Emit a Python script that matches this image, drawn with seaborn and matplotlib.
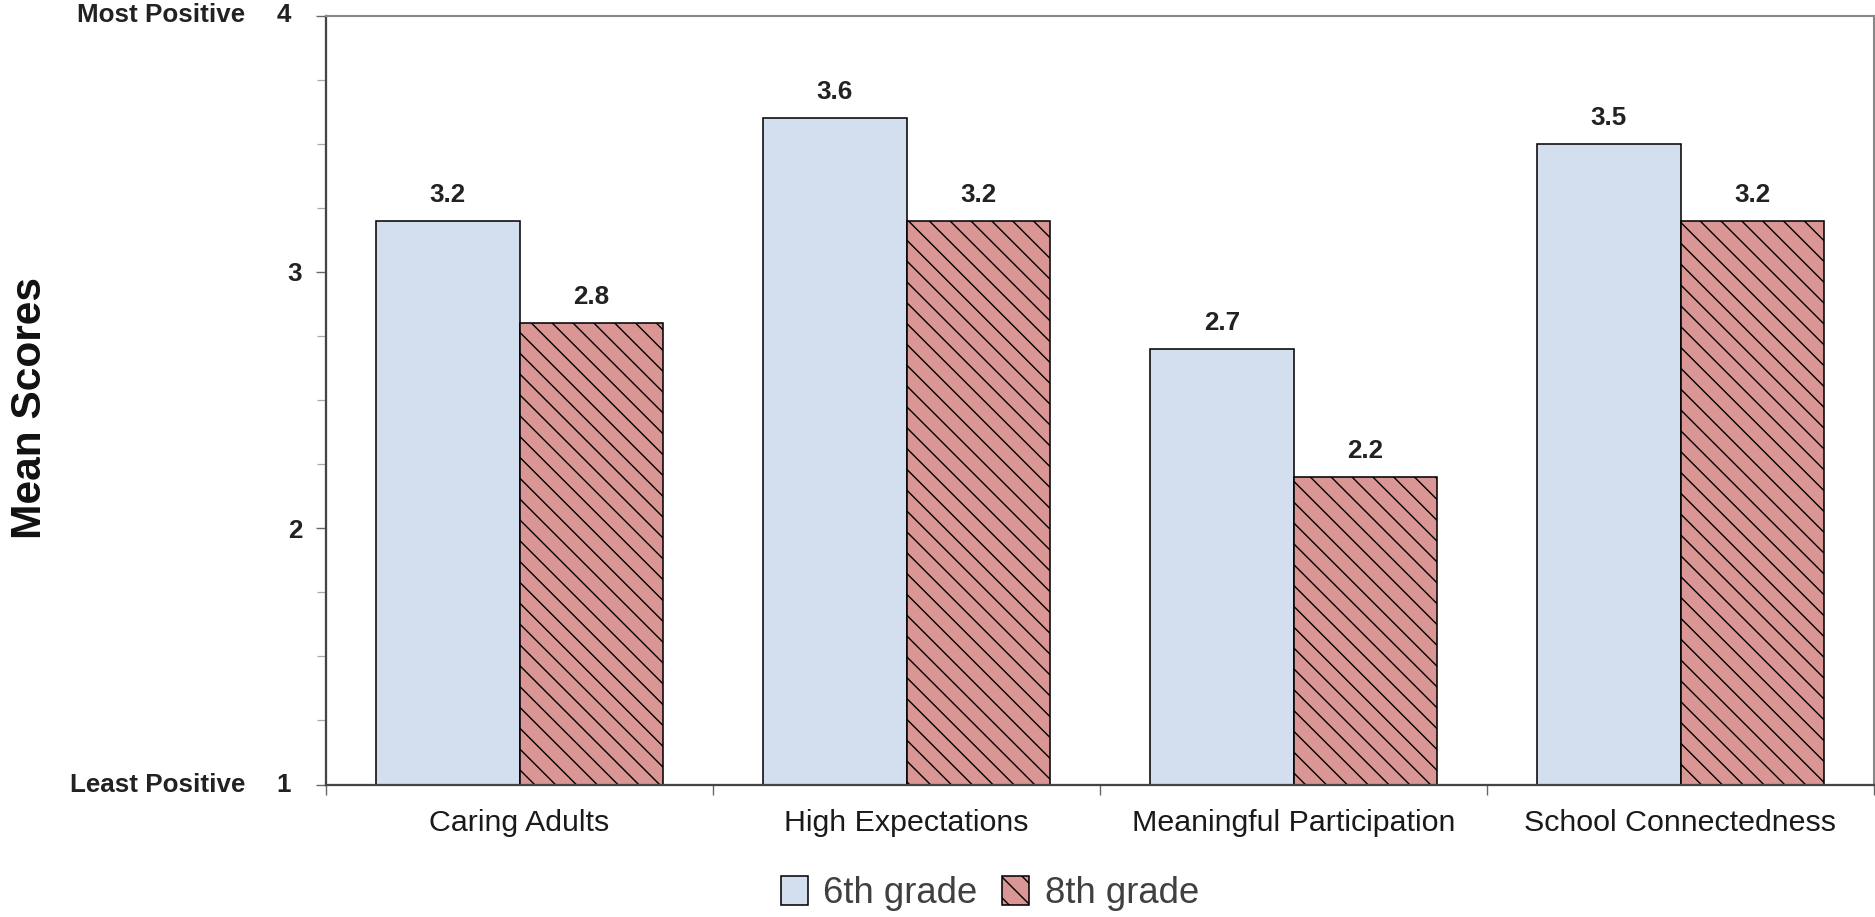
import numpy as np
import pandas as pd
import seaborn as sns
import matplotlib.pyplot as plt
from matplotlib.ticker import FixedLocator, MultipleLocator

categories = ['Caring Adults', 'High Expectations', 'Meaningful Participation', 'School Connectedness']
grades = ['6th grade', '8th grade']
grade6 = [3.2, 3.6, 2.7, 3.5]
grade8 = [2.8, 3.2, 2.2, 3.2]
bar_colors = ['#d3dfee', '#d99694']

df = pd.DataFrame({
  'category': categories * 2,
  'grade': [grades[0]] * len(categories) + [grades[1]] * len(categories),
  'score': grade6 + grade8,
})

sns.set_theme(style='ticks')
plt.rcParams['font.family'] = ['Liberation Sans', 'DejaVu Sans']
plt.rcParams['hatch.linewidth'] = 0.8
plt.rcParams['hatch.color'] = 'black'

DPI = 125
fig = plt.figure(figsize=(1875 / DPI, 917 / DPI), dpi=DPI)
ax = fig.add_axes([326 / 1875, 1 - 784.5 / 917, 1548 / 1875, 769 / 917])

sns.barplot(data=df, x='category', y='score', hue='grade', order=categories, hue_order=grades,
            palette=bar_colors, width=0.74, edgecolor='black', linewidth=0.9, saturation=1,
            ax=ax, legend=True)

# hatch the 8th grade bars
for bar in ax.containers[1]:
  bar.set_hatch('\\\\')
for cont in ax.containers:
  ax.bar_label(cont, fmt='%.1f', padding=8, fontsize=15, fontweight='bold', color='#222222')

ax.set_xlim(-0.5, 3.5)
ax.set_ylim(1, 4)

# y axis
ax.yaxis.set_major_locator(FixedLocator([1, 2, 3, 4]))
ax.yaxis.set_minor_locator(MultipleLocator(0.25))
ax.set_yticklabels(['', '2', '3', ''], fontsize=15, fontweight='bold', color='#222222')
ax.tick_params(axis='y', which='major', length=5.8, width=0.8, color='#666666', pad=8)
ax.tick_params(axis='y', which='minor', length=5.0, width=0.7, color='#aaaaaa')
for yv, word, num in [(4, 'Most Positive', '4'), (1, 'Least Positive', '1')]:
  ax.annotate(num, xy=(0, yv), xycoords=('axes fraction', 'data'), xytext=(-35, 0),
              textcoords='offset pixels', ha='right', va='center', fontsize=15,
              fontweight='bold', color='#222222', annotation_clip=False)
  ax.annotate(word, xy=(0, yv), xycoords=('axes fraction', 'data'), xytext=(-81, 0),
              textcoords='offset pixels', ha='right', va='center', fontsize=15,
              fontweight='bold', color='#222222', annotation_clip=False)

# x axis: labels at the bars, ticks between groups
ax.xaxis.set_minor_locator(FixedLocator([-0.5, 0.5, 1.5, 2.5, 3.5]))
ax.tick_params(axis='x', which='major', length=0, pad=14, labelsize=17.5, labelcolor='#1a1a1a')
ax.tick_params(axis='x', which='minor', length=5.8, width=0.8, color='#666666')
ax.set_xlabel('')

ax.set_ylabel('Mean Scores', fontsize=24.5, fontweight='bold', color='#111111')
ax.yaxis.set_label_coords(-0.178, 0.49)

for side in ['left', 'bottom']:
  ax.spines[side].set_color('#444444')
  ax.spines[side].set_linewidth(1.3)
for side in ['top', 'right']:
  ax.spines[side].set_color('#888888')
  ax.spines[side].set_linewidth(1.2)
  ax.spines[side].set_visible(True)

handles, labels = ax.get_legend_handles_labels()
ax.get_legend().remove()
handles[1].set_hatch('\\\\')
for h in handles:
  h.set_edgecolor('black')
  h.set_linewidth(0.9)
fig.legend(handles, labels, loc='center', bbox_to_anchor=(0.528, 0.026), ncol=2, frameon=False,
           fontsize=21, labelcolor='#404040', handlelength=0.74, handleheight=0.85,
           handletextpad=0.42, columnspacing=0.68, borderpad=0)

fig.savefig('out.png', dpi=DPI, facecolor='white')
